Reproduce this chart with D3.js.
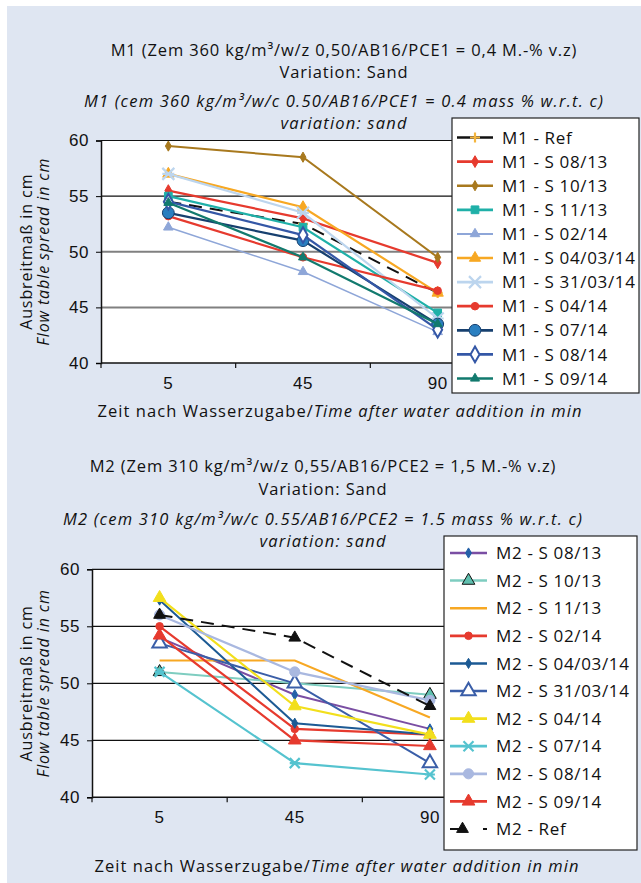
<!DOCTYPE html>
<html>
<head>
<meta charset="utf-8">
<script src="https://cdn.jsdelivr.net/npm/d3@7"></script>
<style>
  html, body { margin: 0; padding: 0; background: #fff; }
  svg { display: block; font-family: 'Open Sans', 'Noto Sans', sans-serif; }
</style>
</head>
<body>
<div class="viz"></div>
<script>
// categories (x axis)
const times = ['5', '45', '90']
const yTicks = [40, 45, 50, 55, 60]

// M1 series
const m1Names = ['M1 - Ref', 'M1 - S 08/13', 'M1 - S 10/13', 'M1 - S 11/13', 'M1 - S 02/14',
  'M1 - S 04/03/14', 'M1 - S 31/03/14', 'M1 - S 04/14', 'M1 - S 07/14', 'M1 - S 08/14', 'M1 - S 09/14']
const m1Ref = [54.5, 52.5, 46.3]
const m1S0813 = [55.5, 53.0, 49.0]
const m1S1013 = [59.5, 58.5, 49.5]
const m1S1113 = [55.0, 52.2, 44.5]
const m1S0214 = [52.2, 48.2, 42.8]
const m1S040314 = [57.0, 54.0, 46.3]
const m1S310314 = [57.0, 53.5, 44.0]
const m1S0414 = [53.2, 49.5, 46.5]
const m1S0714 = [53.5, 51.0, 43.5]
const m1S0814 = [54.5, 51.5, 43.0]
const m1S0914 = [54.4, 49.5, 43.5]

// M2 series
const m2Names = ['M2 - S 08/13', 'M2 - S 10/13', 'M2 - S 11/13', 'M2 - S 02/14', 'M2 - S 04/03/14',
  'M2 - S 31/03/14', 'M2 - S 04/14', 'M2 - S 07/14', 'M2 - S 08/14', 'M2 - S 09/14', 'M2 - Ref']
const m2S0813 = [54.0, 49.0, 46.0]
const m2S1013 = [51.0, 50.0, 49.0]
const m2S1113 = [52.0, 52.0, 47.0]
const m2S0214 = [55.0, 46.0, 45.5]
const m2S040314 = [57.3, 46.5, 45.5]
const m2S310314 = [53.5, 50.0, 43.0]
const m2S0414 = [57.5, 48.0, 45.5]
const m2S0714 = [51.0, 43.0, 42.0]
const m2S0814 = [56.0, 51.0, 48.5]
const m2S0914 = [54.2, 45.0, 44.5]
const m2Ref = [56.0, 54.0, 48.0]

const m1Values = [m1Ref, m1S0813, m1S1013, m1S1113, m1S0214, m1S040314, m1S310314, m1S0414, m1S0714, m1S0814, m1S0914]
const m2Values = [m2S0813, m2S1013, m2S1113, m2S0214, m2S040314, m2S310314, m2S0414, m2S0714, m2S0814, m2S0914, m2Ref]

// styles: [line colour, marker, marker fill, marker stroke, marker size, line width, dashed]
const m1Styles = [
  ['#111', 'plus', 'none', '#f5b53d', 5, 2, true],
  ['#e63a2e', 'diamond', '#e63a2e', '#e63a2e', 40, 2.2, false],
  ['#a8791e', 'diamond', '#a8791e', '#a8791e', 30, 2, false],
  ['#1fb0a8', 'square', '#1fb0a8', '#1fb0a8', 60, 2.2, false],
  ['#8ea6d8', 'triangle', '#8ea6d8', '#8ea6d8', 40, 1.5, false],
  ['#f7a823', 'triangle', '#f7a823', '#f7a823', 55, 2.2, false],
  ['#bcd5ee', 'x', 'none', '#bcd5ee', 6, 2.2, false],
  ['#e63a2e', 'circle', '#e63a2e', '#e63a2e', 45, 2.2, false],
  ['#17406f', 'circle', '#2a7fc0', '#17406f', 110, 2.2, false],
  ['#3457a6', 'diamond', '#fff', '#3457a6', 70, 2.2, false],
  ['#127a6e', 'triangle', '#127a6e', '#127a6e', 35, 2.2, false]
]
const m2Styles = [
  ['#7a4ea3', 'diamond', '#2460a8', '#2460a8', 30, 2, false],
  ['#7ecdc0', 'triangle', '#5fbfae', '#111', 70, 2, false],
  ['#f7a823', 'none', 'none', 'none', 0, 2, false],
  ['#e63a2e', 'circle', '#e63a2e', '#e63a2e', 45, 2.2, false],
  ['#1c5a94', 'diamond', '#1c5a94', '#1c5a94', 30, 2, false],
  ['#3a5ea8', 'triangle', '#fff', '#3a5ea8', 90, 2, false],
  ['#f2df1c', 'triangle', '#f2df1c', '#f2df1c', 70, 2.2, false],
  ['#55c3cf', 'x', 'none', '#55c3cf', 5, 2.2, false],
  ['#a9b8e0', 'circle', '#a9b8e0', '#a9b8e0', 80, 2.2, false],
  ['#e63a2e', 'triangle', '#e63a2e', '#e63a2e', 70, 2.2, false],
  ['#111', 'triangle', '#111', '#111', 60, 2, true]
]

const W = 641, H = 883
const svg = d3.select('.viz').append('svg').attr('width', W).attr('height', H)
svg.append('rect').attr('x', 7).attr('y', 6).attr('width', W - 7).attr('height', H - 6).attr('fill', '#dfe6f2')

function drawMarker(g, type, fill, stroke, size) {
  if (type === 'none') return
  if (type === 'plus') {
    g.append('path').attr('d', `M${-size},0H${size}M0,${-size}V${size}`)
      .attr('stroke', stroke).attr('stroke-width', 2.2).attr('fill', 'none')
  } else if (type === 'x') {
    g.append('path').attr('d', `M${-size},${-size}L${size},${size}M${-size},${size}L${size},${-size}M${-size},0H${size}`)
      .attr('stroke', stroke).attr('stroke-width', 2.2).attr('fill', 'none')
  } else {
    const types = { diamond: d3.symbolDiamond, square: d3.symbolSquare, triangle: d3.symbolTriangle, circle: d3.symbolCircle }
    g.append('path').attr('d', d3.symbol().type(types[type]).size(size)())
      .attr('fill', fill).attr('stroke', stroke).attr('stroke-width', fill === '#fff' ? 2 : 1)
  }
}

function drawChart(o) {
  const x = d3.scaleBand().domain(times).range([o.x0, o.x1])
  const y = d3.scaleLinear().domain([40, 60]).range([o.y40, o.y60])
  const g = svg.append('g')

  // titles
  o.titles.forEach((t, i) => {
    g.append('text').attr('x', o.titleX).attr('y', o.titleY[i]).attr('text-anchor', 'middle')
      .attr('font-size', 16.5).attr('letter-spacing', t.italic ? 1.2 : 0.85)
      .attr('font-style', t.italic ? 'italic' : 'normal').attr('fill', '#111').text(t.text)
  })

  // plot area
  g.append('rect').attr('x', o.x0).attr('y', o.y60).attr('width', o.x1 - o.x0).attr('height', o.y40 - o.y60).attr('fill', '#fff')
  yTicks.slice(1).forEach(v => {
    const grey = o.greyGrid && v <= 50
    g.append('line').attr('x1', o.x0).attr('x2', o.x1).attr('y1', y(v)).attr('y2', y(v))
      .attr('stroke', grey ? '#808080' : '#111').attr('stroke-width', grey ? 2 : 1.2)
  })

  // y axis
  const ay = g.append('g').attr('transform', `translate(${o.x0},0)`)
    .call(d3.axisLeft(y).tickValues(yTicks).tickSize(5).tickPadding(7))
  ay.select('.domain').attr('stroke', '#111').attr('stroke-width', 1.5)
  ay.selectAll('text').attr('font-size', 17).attr('letter-spacing', 0.5).attr('fill', '#111').attr('font-family', null)

  // x axis, ticks between the categories
  const ax = g.append('g').attr('transform', `translate(0,${o.y40})`)
    .call(d3.axisBottom(x).tickSize(0).tickPadding(14))
  ax.select('.domain').remove()
  ax.selectAll('text').attr('font-size', 17).attr('letter-spacing', 0.5).attr('fill', '#111').attr('font-family', null)
  g.append('line').attr('x1', o.x0).attr('x2', o.x1).attr('y1', y(40)).attr('y2', y(40)).attr('stroke', '#111').attr('stroke-width', 1.5)
  d3.range(times.length + 1).forEach(i => {
    const xx = o.x0 + i * x.step()
    g.append('line').attr('x1', xx).attr('x2', xx).attr('y1', y(40)).attr('y2', y(40) + 5).attr('stroke', '#111').attr('stroke-width', 1.2)
  })

  // axis titles
  const xt = g.append('text').attr('x', o.xTitleX).attr('y', o.xTitleY).attr('text-anchor', 'middle')
    .attr('font-size', 16.5).attr('letter-spacing', 1.05).attr('fill', '#111')
  xt.append('tspan').text('Zeit nach Wasserzugabe/')
  xt.append('tspan').attr('font-style', 'italic').text('Time after water addition in min')
  const ym = (o.y40 + o.y60) / 2
  g.append('text').attr('transform', `translate(${o.yTitleX},${ym}) rotate(-90)`).attr('text-anchor', 'middle')
    .attr('font-size', 16).attr('letter-spacing', 0.9).attr('fill', '#111').text('Ausbreitmaß in cm')
  g.append('text').attr('transform', `translate(${o.yTitleX + 17},${ym}) rotate(-90)`).attr('text-anchor', 'middle')
    .attr('font-size', 16).attr('letter-spacing', 0.9).attr('font-style', 'italic').attr('fill', '#111').text('Flow table spread in cm')

  // series
  const line = d3.line().x((d, i) => x(times[i]) + x.bandwidth() / 2).y(d => y(d))
  const series = o.values.map((v, i) => ({ name: o.names[i], values: v, style: o.styles[i] }))
  series.forEach(s => {
    const [col, mk, fill, stroke, size, lw, dashed] = s.style
    g.append('path').datum(s.values).attr('d', line).attr('fill', 'none')
      .attr('stroke', col).attr('stroke-width', lw).attr('stroke-dasharray', dashed ? '13,8' : null)
    s.values.forEach((v, i) => {
      const m = g.append('g').attr('transform', `translate(${x(times[i]) + x.bandwidth() / 2},${y(v)})`)
      drawMarker(m, mk, fill, stroke, size)
    })
  })

  // legend
  const L = o.legend
  g.append('rect').attr('x', L.x).attr('y', L.y).attr('width', L.w).attr('height', L.h)
    .attr('fill', '#fff').attr('stroke', '#222').attr('stroke-width', 1.2)
  series.forEach((s, i) => {
    const [col, mk, fill, stroke, size, lw, dashed] = s.style
    const ry = L.row0 + i * L.step
    const lg = g.append('g')
    if (dashed && mk !== 'plus') {
      lg.append('line').attr('x1', L.sx0).attr('x2', L.sx0 + 14).attr('y1', ry).attr('y2', ry).attr('stroke', col).attr('stroke-width', lw)
      lg.append('line').attr('x1', L.sx1 - 4).attr('x2', L.sx1).attr('y1', ry).attr('y2', ry).attr('stroke', col).attr('stroke-width', lw)
    } else {
      lg.append('line').attr('x1', L.sx0).attr('x2', L.sx1).attr('y1', ry).attr('y2', ry).attr('stroke', col).attr('stroke-width', lw + 0.5)
    }
    const mg = lg.append('g').attr('transform', `translate(${(L.sx0 + L.sx1) / 2 + (dashed && mk !== 'plus' ? -6 : 0)},${ry})`)
    drawMarker(mg, mk, fill, stroke, size)
    lg.append('text').attr('x', L.tx).attr('y', ry).attr('dy', '0.36em')
      .attr('font-size', 17).attr('letter-spacing', 0.65).attr('fill', '#111').text(s.name)
  })
}

drawChart({
  x0: 101, x1: 505, y40: 363, y60: 140.5, greyGrid: true,
  titleX: 344, titleY: [56, 78, 107, 129],
  titles: [
    { text: 'M1 (Zem 360 kg/m³/w/z 0,50/AB16/PCE1 = 0,4 M.-% v.z)' },
    { text: 'Variation: Sand' },
    { text: 'M1 (cem 360 kg/m³/w/c 0.50/AB16/PCE1 = 0.4 mass % w.r.t. c)', italic: true },
    { text: 'variation: sand', italic: true }
  ],
  xTitleX: 340, xTitleY: 417, yTitleX: 32,
  names: m1Names, values: m1Values, styles: m1Styles,
  legend: { x: 452, y: 118, w: 187, h: 275, row0: 137.5, step: 24.1, sx0: 457, sx1: 493, tx: 502 }
})

drawChart({
  x0: 92, x1: 497.5, y40: 797.3, y60: 569.3, greyGrid: false,
  titleX: 323, titleY: [472, 495, 525, 547],
  titles: [
    { text: 'M2 (Zem 310 kg/m³/w/z 0,55/AB16/PCE2 = 1,5 M.-% v.z)' },
    { text: 'Variation: Sand' },
    { text: 'M2 (cem 310 kg/m³/w/c 0.55/AB16/PCE2 = 1.5 mass % w.r.t. c)', italic: true },
    { text: 'variation: sand', italic: true }
  ],
  xTitleX: 337, xTitleY: 872, yTitleX: 32,
  names: m2Names, values: m2Values, styles: m2Styles,
  legend: { x: 444, y: 536, w: 193, h: 314, row0: 553, step: 27.6, sx0: 450, sx1: 487, tx: 496 }
})
</script>
</body>
</html>
